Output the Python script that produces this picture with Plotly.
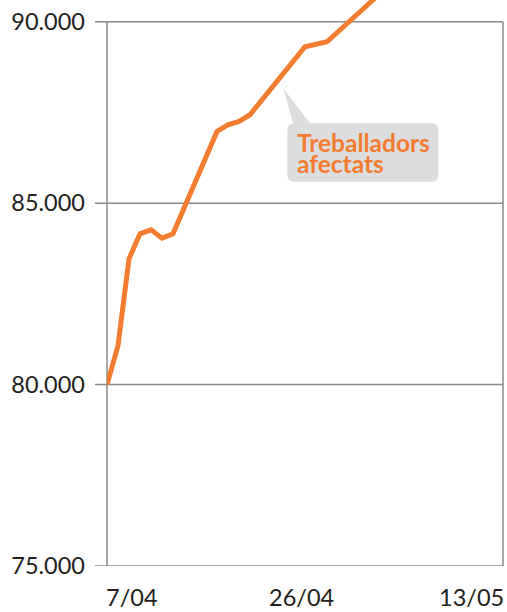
import plotly.graph_objects as go

# ---- data ----
dates = ['2020-04-07', '2020-04-08', '2020-04-09', '2020-04-10', '2020-04-11',
         '2020-04-12', '2020-04-13', '2020-04-17', '2020-04-18', '2020-04-19',
         '2020-04-20', '2020-04-25', '2020-04-27', '2020-04-29', '2020-04-30',
         '2020-05-02']
workers = [80000, 81075, 83467, 84156, 84266,
           84037, 84156, 86977, 87162, 87253,
           87438, 89311, 89448, 89972, 90276,
           90830]
y_ticks = [75000, 80000, 85000, 90000]
y_tick_labels = ['75.000', '80.000', '85.000', '90.000']
x_labels = ['7/04', '26/04', '13/05']
x_label_dates = ['2020-04-07', '2020-04-26', '2020-05-13']
series_label = ['Treballadors', 'afectats']

ORANGE = '#F47C30'
GRAY = '#8a8a8a'
TEXT = '#231f20'
W, H = 507, 612
ML, MR, MT, MB = 107, 4, 0, 46
PW, PH = W - ML - MR, H - MT - MB


def px(xp):
    return (xp - ML) / PW


def py(yp):
    return (MT + PH - yp) / PH


fig = go.Figure()
fig.add_trace(go.Scatter(
    x=dates, y=workers, mode='lines',
    line=dict(color=ORANGE, width=5),
    hoverinfo='skip', showlegend=False,
))

# frame: verticals and horizontal lines between 75.000 and 90.000
shapes = [
    dict(type='line', xref='paper', yref='y', x0=0, x1=0, y0=75000, y1=90000,
         line=dict(color=GRAY, width=1.5), layer='below'),
    dict(type='line', xref='paper', yref='y', x0=1, x1=1, y0=75000, y1=90000,
         line=dict(color=GRAY, width=1.5), layer='below'),
]
for v in y_ticks:
    shapes.append(dict(type='line', xref='paper', yref='y', x0=px(95), x1=1,
                       y0=v, y1=v, line=dict(color=GRAY, width=1.5), layer='below'))

# callout bubble (rounded box + pointer)
x0b, x1b, y0b, y1b, r = 287.3, 438.3, 123.3, 181.7, 7
tip = (283.3, 88.3)
bl, br = 293.0, 310.0
pts = [
    f"M {px(x0b + r)},{py(y0b)}",
    f"L {px(bl)},{py(y0b)}",
    f"L {px(tip[0])},{py(tip[1])}",
    f"L {px(br)},{py(y0b)}",
    f"L {px(x1b - r)},{py(y0b)}",
    f"Q {px(x1b)},{py(y0b)} {px(x1b)},{py(y0b + r)}",
    f"L {px(x1b)},{py(y1b - r)}",
    f"Q {px(x1b)},{py(y1b)} {px(x1b - r)},{py(y1b)}",
    f"L {px(x0b + r)},{py(y1b)}",
    f"Q {px(x0b)},{py(y1b)} {px(x0b)},{py(y1b - r)}",
    f"L {px(x0b)},{py(y0b + r)}",
    f"Q {px(x0b)},{py(y0b)} {px(x0b + r)},{py(y0b)}",
    "Z",
]
shapes.append(dict(type='path', xref='paper', yref='paper', path=' '.join(pts),
                   fillcolor='#DCDDDF', line=dict(width=0), layer='below'))

annotations = []
for i, t in enumerate(series_label):
    annotations.append(dict(
        text=f"<b>{t}</b>", xref='paper', yref='paper',
        x=px(295.0), y=py(142.0 + i * 21.7), xanchor='left', yanchor='middle',
        height=21, valign='middle',
        showarrow=False, font=dict(family='Lato', size=24.5, color=ORANGE),
    ))

anchors = ['left', 'center', 'right']
shifts = [-3, -15, 3]
for lab, d, a, s in zip(x_labels, x_label_dates, anchors, shifts):
    annotations.append(dict(
        text=lab, xref='x', yref='paper', x=d, y=py(597), xanchor=a,
        yanchor='middle', xshift=s, showarrow=False,
        font=dict(family='Lato', size=23.5, color=TEXT),
    ))

fig.update_layout(
    width=W, height=H, autosize=False,
    margin=dict(l=ML, r=MR, t=MT, b=MB, pad=0),
    paper_bgcolor='white', plot_bgcolor='white',
    shapes=shapes, annotations=annotations,
    xaxis=dict(type='date', range=['2020-04-07', '2020-05-13'],
               showgrid=False, showticklabels=False, zeroline=False,
               showline=False, ticks=''),
    yaxis=dict(range=[75000, 90600], tickvals=y_ticks, ticktext=y_tick_labels,
               showgrid=False, zeroline=False, showline=False, ticks='',
               ticklabelstandoff=21,
               tickfont=dict(family='Lato', size=23.5, color=TEXT)),
)

fig.write_html(
    "out.html",
    config={'displayModeBar': False},
    post_script="document.body.style.margin='0';document.body.style.overflow='hidden';",
)
